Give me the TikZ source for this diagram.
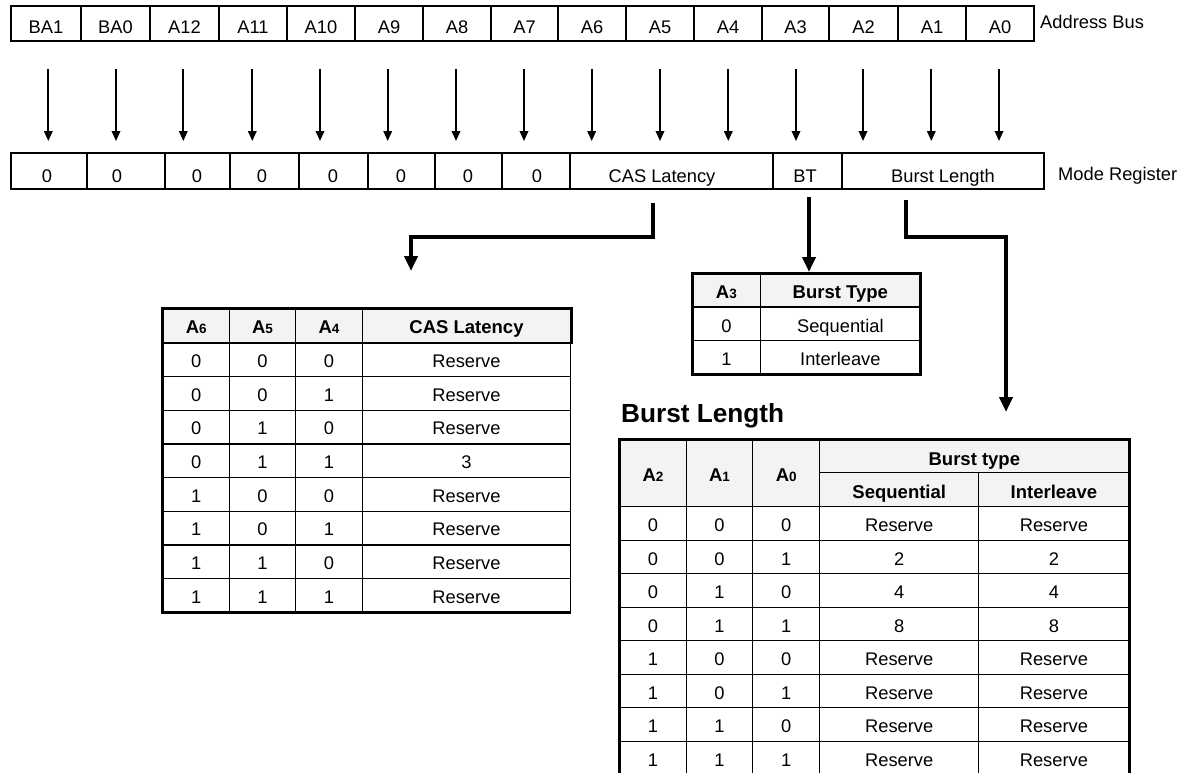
\documentclass[tikz,border=0pt]{standalone}
\usepackage{fontspec}
\setmainfont{Liberation Sans}
\usetikzlibrary{arrows.meta}
\definecolor{hdrgray}{RGB}{243,243,243}
\newcommand\Asub[1]{A{\fontsize{13.5}{16}\selectfont #1}}
\begin{document}
\begin{tikzpicture}[x=1pt,y=-1pt,
 fnt/.style={font=\fontsize{18.3}{22}\selectfont},
 bus/.style={fnt,draw,line width=2pt,inner sep=0pt,minimum height=35pt,text height=20.2pt,text depth=0pt},
 mreg/.style={draw,line width=2pt,inner sep=0pt,minimum height=35.7pt},
 mtxt/.style={fnt,inner sep=0pt,anchor=base},
 side/.style={fnt,inner sep=0pt,anchor=base west},
 busarrow/.style={line width=1.8pt,-{Triangle[width=8.5pt,length=10pt]}},
 fatarrow/.style={line width=4pt,line join=miter,-{Triangle[width=13pt,length=15pt]}},
 tcell/.style={fnt,draw,line width=1.3pt,inner sep=0pt,text depth=0pt},
 thd/.style={tcell,fill=hdrgray,font=\bfseries\fontsize{18.5}{22}\selectfont},
 tframe/.style={draw,line width=3pt,inner sep=0pt},
 frameline/.style={line width=3pt,line join=miter}
]
\useasboundingbox (0,0) rectangle (1193,772);
\clip (0,0) rectangle (1193,772);

% Address bus
\foreach \l/\r/\t [count=\i] in {11/81/BA1, 81/150/BA0, 150/219/A12, 219/287/A11, 287/355/A10, 355/423/A9, 423/491/A8, 491/558/A7, 558/626/A6, 626/694/A5, 694/762/A4, 762/829/A3, 829/898/A2, 898/966/A1, 966/1034/A0}{
  \node[bus,minimum width={\r-\l}] (b\i) at ({(\l+\r)/2},23.2) {\t};
}
\node[side] (abus) at (1040,28.5) {Address Bus};

% Mode register
\foreach \l/\r/\tx/\t [count=\i] in {10.7/87.3/47/0, 87.3/165/117/0, 165/230/197/0, 230/299/262/0, 299/367.7/333/0, 367.7/435/401/0, 435/502.3/468/0, 502.3/570/537/0, 570/773.3/662/CAS Latency, 773.3/842/805/BT, 842/1043.7/943/Burst Length}{
  \node[mreg,minimum width={\r-\l}] (m\i) at ({(\l+\r)/2},171.15) {};
  \node[mtxt] (mt\i) at (\tx,182.5) {\t};
}
\node[side] (mregl) at (1058,180) {Mode Register};

% bus arrows
\foreach \x [count=\i] in {48.3,116,183.3,252.3,320,387.7,456,524,591.7,660,728.3,796,863,931.3,999}{
  \coordinate (as\i) at (\x,69);
  \coordinate (ae\i) at (\x,141);
  \draw[busarrow] (as\i) -- (ae\i);
}

% CAS latency table
\node[thd,text height=15.5pt,minimum width=66pt,minimum height=33.67pt] (ch1) at (196.3,326.1) {\Asub{6}};
\node[thd,text height=15.5pt,minimum width=66.4pt,minimum height=33.67pt] (ch2) at (262.5,326.1) {\Asub{5}};
\node[thd,text height=15.5pt,minimum width=66.6pt,minimum height=33.67pt] (ch3) at (329,326.1) {\Asub{4}};
\node[thd,text height=15.5pt,minimum width=208.4pt,minimum height=33.67pt] (ch4) at (466.5,326.1) {CAS Latency};
\foreach \a/\b/\c/\d [count=\i] in {0/0/0/Reserve, 0/0/1/Reserve, 0/1/0/Reserve, 0/1/1/3, 1/0/0/Reserve, 1/0/1/Reserve, 1/1/0/Reserve, 1/1/1/Reserve}{
  \pgfmathsetmacro\yc{309.3+33.67*\i+16.835}
  \node[tcell,text height=15.5pt,minimum width=66pt,minimum height=33.67pt] (c\i a) at (196.3,\yc) {\a};
  \node[tcell,text height=15.5pt,minimum width=66.4pt,minimum height=33.67pt] (c\i b) at (262.5,\yc) {\b};
  \node[tcell,text height=15.5pt,minimum width=66.6pt,minimum height=33.67pt] (c\i c) at (329,\yc) {\c};
  \node[tcell,text height=15.5pt,minimum width=208.4pt,minimum height=33.67pt] (c\i d) at (466.5,\yc) {\d};
}
\draw[frameline] (ch4.south east) -- (ch4.north east) -- (ch1.north west) -- (c8a.south west) -- (c8d.south east);

% Burst type table
\node[thd,text height=16.3pt,minimum width=68.7pt,minimum height=33.7pt] (bh1) at (726.35,290.15) {\Asub{3}};
\node[thd,text height=16.3pt,minimum width=159.3pt,minimum height=33.7pt] (bh2) at (840.35,290.15) {Burst Type};
\node[tcell,text height=16.3pt,minimum width=68.7pt,minimum height=33.7pt] (bt1a) at (726.35,323.9) {0};
\node[tcell,text height=16.3pt,minimum width=159.3pt,minimum height=33.7pt] (bt1b) at (840.35,323.9) {Sequential};
\node[tcell,text height=16.3pt,minimum width=68.7pt,minimum height=33.7pt] (bt2a) at (726.35,357.6) {1};
\node[tcell,text height=16.3pt,minimum width=159.3pt,minimum height=33.7pt] (bt2b) at (840.35,357.6) {Interleave};
\node[tframe,minimum width=228pt,minimum height=101.2pt] (bttab) at (806,323.9) {};

% Burst length table
\node[anchor=base west,inner sep=0pt,font=\bfseries\fontsize{26.2}{30}\selectfont] (bltitle) at (621,422) {Burst Length};
\node[thd,text height=17.4pt,minimum width=66.7pt,minimum height=67.4pt] (lh1) at (653.05,473) {\Asub{2}};
\node[thd,text height=17.4pt,minimum width=66.3pt,minimum height=67.4pt] (lh2) at (719.55,473) {\Asub{1}};
\node[thd,text height=17.4pt,minimum width=67pt,minimum height=67.4pt] (lh3) at (786.2,473) {\Asub{0}};
\node[thd,text height=18pt,minimum width=309.3pt,minimum height=33.4pt] (lh4) at (974.35,456) {Burst type};
\node[thd,text height=17.2pt,minimum width=159.1pt,minimum height=34pt] (lh5) at (899.25,489.7) {Sequential};
\node[thd,text height=17.2pt,minimum width=150.2pt,minimum height=34pt] (lh6) at (1053.9,489.7) {Interleave};
\foreach \a/\b/\c/\d/\e [count=\i] in {0/0/0/Reserve/Reserve, 0/0/1/2/2, 0/1/0/4/4, 0/1/1/8/8, 1/0/0/Reserve/Reserve, 1/0/1/Reserve/Reserve, 1/1/0/Reserve/Reserve, 1/1/1/Reserve/Reserve}{
  \pgfmathsetmacro\yc{506.7+33.5*(\i-1)+16.75}
  \node[tcell,text height=16.5pt,minimum width=66.7pt,minimum height=33.5pt] (l\i a) at (653.05,\yc) {\a};
  \node[tcell,text height=16.5pt,minimum width=66.3pt,minimum height=33.5pt] (l\i b) at (719.55,\yc) {\b};
  \node[tcell,text height=16.5pt,minimum width=67pt,minimum height=33.5pt] (l\i c) at (786.2,\yc) {\c};
  \node[tcell,text height=16.5pt,minimum width=159.1pt,minimum height=33.5pt] (l\i d) at (899.25,\yc) {\d};
  \node[tcell,text height=16.5pt,minimum width=150.2pt,minimum height=33.5pt] (l\i e) at (1053.9,\yc) {\e};
}
\node[tframe,minimum width=509.3pt,minimum height=335.4pt] (bltab) at (874.35,607) {};

% elbow connectors
\coordinate (casA) at (653.3,203);
\coordinate (casB) at (411,271);
\draw[fatarrow] (casA) -- ++(0,34) -| (casB);
\coordinate (btA) at (809,197);
\coordinate (btB) at (809,272);
\draw[fatarrow] (btA) -- (btB);
\coordinate (blA) at (906,200);
\coordinate (blB) at (1006,412);
\draw[fatarrow] (blA) -- ++(0,37) -| (blB);
\end{tikzpicture}
\end{document}
